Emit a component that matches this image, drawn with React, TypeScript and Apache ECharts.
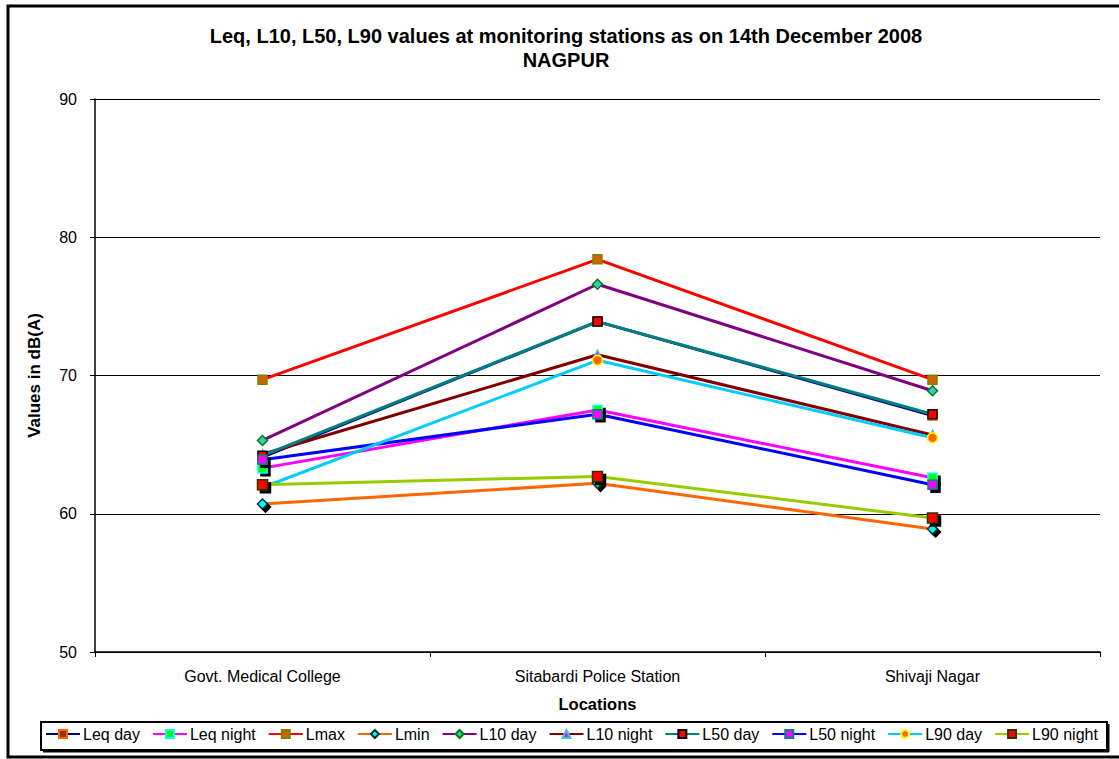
import React, { useEffect, useRef } from "react";
import * as echarts from "echarts";

const categories = ["Govt. Medical College", "Sitabardi Police Station", "Shivaji Nagar"];
const leqDay = [64.1, 73.9, 67.1];
const leqNight = [63.3, 67.5, 62.6];
const lmax = [69.7, 78.4, 69.7];
const lmin = [60.7, 62.2, 58.9];
const l10Day = [65.3, 76.6, 68.9];
const l10Night = [64.3, 71.5, 65.7];
const l50Day = [64.2, 73.9, 67.2];
const l50Night = [63.9, 67.2, 62.1];
const l90Day = [61.9, 71.1, 65.5];
const l90Night = [62.1, 62.7, 59.7];
const yTicks = [50, 60, 70, 80, 90];

const FONT = "Liberation Sans, Arial, sans-serif";

export default function App() {
  const ref = useRef<HTMLDivElement>(null);
  useEffect(() => {
    if (!ref.current) return;
    const chart = echarts.init(ref.current, null, { renderer: "svg" });
    const mk = (
      name: string,
      data: number[],
      color: string,
      symbol: string,
      fill: string,
      border: string,
      shadow = false,
      size = 9
    ) => ({
      name,
      type: "line",
      data,
      symbol,
      symbolSize: size,
      showAllSymbol: true,
      lineStyle: { color, width: 3 },
      color,
      itemStyle: {
        color: fill,
        borderColor: border,
        borderWidth: 1.5,
        ...(shadow
          ? { shadowColor: "#000", shadowOffsetX: 3, shadowOffsetY: 3, shadowBlur: 1 }
          : {}),
      },
      emphasis: { disabled: true },
      z: 2,
    });
    const series = [
      mk("Leq day", leqDay, "#000080", "rect", "#993300", "#FF6600"),
      mk("Leq night", leqNight, "#FF00FF", "rect", "#00FF00", "#00FFFF", true),
      mk("Lmax", lmax, "#FF0000", "rect", "#CC6600", "#808000"),
      mk("Lmin", lmin, "#FF6600", "diamond", "#00FFFF", "#003333", true, 10),
      mk("L10 day", l10Day, "#800080", "diamond", "#33CCCC", "#008000", false, 10),
      mk("L10 night", l10Night, "#800000", "triangle", "#FF00FF", "#33CCCC"),
      mk("L50 day", l50Day, "#008080", "rect", "#FF0000", "#000000"),
      mk("L50 night", l50Night, "#0000FF", "rect", "#FF00FF", "#008080", true),
      mk("L90 day", l90Day, "#00CCFF", "circle", "#FF6600", "#FFFF00", false, 10),
      mk("L90 night", l90Night, "#99CC00", "rect", "#FF0000", "#333300", true, 10),
    ];
    chart.setOption({
      animation: false,
      backgroundColor: "#ffffff",
      textStyle: { fontFamily: FONT },
      grid: { left: 95, right: 19, top: 99, bottom: 107, containLabel: false },
      xAxis: {
        type: "category",
        data: categories,
        boundaryGap: true,
        name: "Locations",
        nameLocation: "middle",
        nameGap: 43,
        nameTextStyle: { fontFamily: FONT, fontSize: 16.5, fontWeight: "bold", color: "#000" },
        axisLine: { show: true, lineStyle: { color: "#000", width: 1.5 } },
        axisTick: { show: true, length: 5, lineStyle: { color: "#000" }, alignWithLabel: false },
        axisLabel: { fontFamily: FONT, fontSize: 16, color: "#000", margin: 16 },
        splitLine: { show: false },
      },
      yAxis: {
        type: "value",
        min: yTicks[0],
        max: yTicks[yTicks.length - 1],
        interval: 10,
        name: "Values in dB(A)",
        nameLocation: "middle",
        nameGap: 52,
        nameRotate: 90,
        nameTextStyle: { fontFamily: FONT, fontSize: 17, fontWeight: "bold", color: "#000" },
        axisLine: { show: true, lineStyle: { color: "#000", width: 1.5 } },
        axisTick: { show: true, length: 5, lineStyle: { color: "#000" } },
        axisLabel: { fontFamily: FONT, fontSize: 16, color: "#000", margin: 18 },
        splitLine: { show: true, lineStyle: { color: "#000", width: 1 } },
      },
      legend: {
        left: 45,
        top: 726,
        itemWidth: 34,
        itemHeight: 10,
        itemGap: 12,
        padding: 0,
        textStyle: { fontFamily: FONT, fontSize: 16, color: "#000", padding: [0, 0, 0, -2] },
        data: series.map((s) => s.name),
      },
      graphic: [
        {
          type: "rect",
          shape: { x: 8, y: 6, width: 1125, height: 751 },
          style: { fill: "none", stroke: "#000", lineWidth: 3 },
          silent: true,
          z: -10,
        },
        {
          type: "rect",
          shape: { x: 41, y: 722, width: 1066, height: 28 },
          style: { fill: "none", stroke: "#000", lineWidth: 2 },
          silent: true,
        },
        {
          type: "line",
          shape: { x1: 1108.5, y1: 724, x2: 1108.5, y2: 752 },
          style: { stroke: "#000", lineWidth: 2 },
          silent: true,
        },
        {
          type: "line",
          shape: { x1: 43, y1: 751.5, x2: 1109, y2: 751.5 },
          style: { stroke: "#000", lineWidth: 2 },
          silent: true,
        },
        {
          type: "text",
          x: 566,
          y: 24,
          style: {
            text: "Leq, L10, L50, L90 values at monitoring stations as on 14th December 2008\nNAGPUR",
            font: "bold 20px " + FONT,
            fill: "#000",
            textAlign: "center",
            textVerticalAlign: "top",
            lineHeight: 24,
          },
          silent: true,
        },
      ],
      series,
    });
    return () => chart.dispose();
  }, []);
  return (
    <div
      ref={ref}
      style={{ position: "absolute", left: 0, top: 0, width: 1119, height: 759 }}
    />
  );
}
